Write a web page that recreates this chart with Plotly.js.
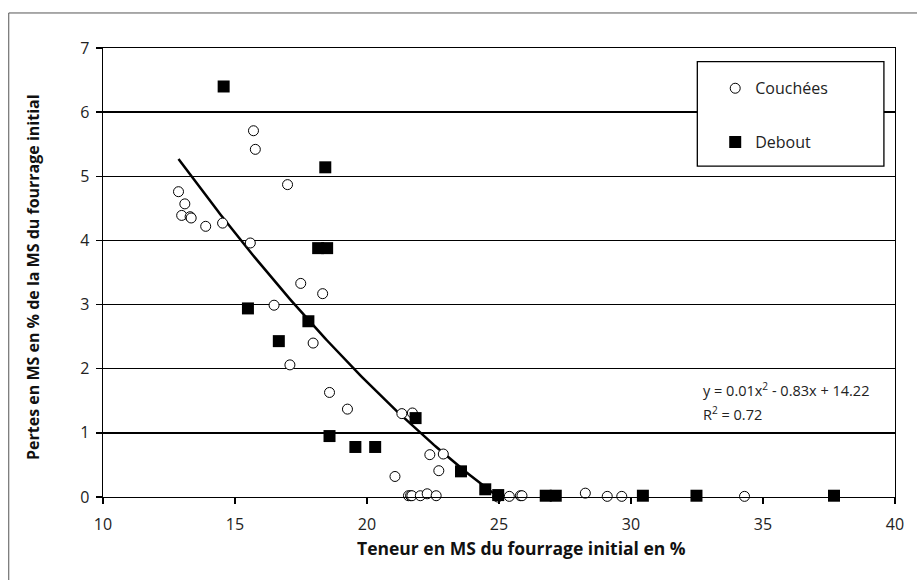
<!DOCTYPE html>
<html>
<head>
<meta charset="utf-8">
<script src="https://cdn.plot.ly/plotly-3.0.1.min.js"></script>
<style>html,body{margin:0;padding:0;background:#fff;}#chart{width:917px;height:580px;}</style>
</head>
<body>
<div id="chart"></div>
<script>
// Couchées (open circles)
const couchX = [12.86, 13.10, 12.98, 13.30, 13.34, 13.89, 14.53, 15.58, 15.70, 15.77, 16.99, 17.49, 18.32, 16.48, 17.96, 17.08, 18.58, 19.26, 21.32, 21.72, 22.38, 22.89, 22.72, 21.06, 21.57, 21.65, 21.70, 22.02, 22.28, 22.62, 24.95, 25.39, 25.81, 25.87, 28.27, 29.10, 29.65, 34.30];
const couchY = [4.76, 4.57, 4.39, 4.37, 4.35, 4.22, 4.27, 3.96, 5.71, 5.42, 4.87, 3.33, 3.17, 2.99, 2.40, 2.06, 1.63, 1.37, 1.30, 1.31, 0.66, 0.67, 0.41, 0.32, 0.02, 0.02, 0.02, 0.02, 0.05, 0.02, 0.00, 0.01, 0.02, 0.02, 0.06, 0.01, 0.01, 0.01];
// Debout (filled squares)
const deboutX = [14.57, 18.42, 18.15, 18.49, 15.49, 17.78, 16.66, 18.58, 19.56, 20.31, 21.84, 23.56, 24.48, 24.97, 26.77, 27.15, 30.45, 32.48, 37.69];
const deboutY = [6.40, 5.14, 3.88, 3.88, 2.94, 2.74, 2.43, 0.95, 0.78, 0.78, 1.23, 0.40, 0.12, 0.03, 0.02, 0.02, 0.02, 0.02, 0.02];
// Polynomial trendline coefficients (order 2): y = a x^2 + b x + c
const trendCoef = [0.01043, -0.83, 14.22];
const seriesNames = ["Couchées", "Debout"];
const xTicks = [10, 15, 20, 25, 30, 35, 40];
const yTicks = [0, 1, 2, 3, 4, 5, 6, 7];
const xTitle = "Teneur en MS du fourrage initial en %";
const yTitle = "Pertes en MS en % de la MS du fourrage initial";
const eqText = "y = 0.01x<sup>2</sup> - 0.83x + 14.22";
const r2Text = "R<sup>2</sup> = 0.72";

const allX = couchX.concat(deboutX);
const xStart = Math.min(...allX);
const xEnd = Math.max(...allX);
const trendX = [], trendY = [];
for (let i = 0; i <= 300; i++) {
  const x = xStart + (xEnd - xStart) * i / 300;
  trendX.push(x);
  trendY.push(trendCoef[0] * x * x + trendCoef[1] * x + trendCoef[2]);
}

const FONT = "Open Sans";

const traces = [
  {x: trendX, y: trendY, type: 'scatter', mode: 'lines', showlegend: false, hoverinfo: 'skip',
   line: {color: '#000', width: 2.5}},
  {x: couchX, y: couchY, type: 'scatter', mode: 'markers', name: seriesNames[0], legendgroup: 'a', cliponaxis: false,
   marker: {symbol: 'circle', size: 10, color: '#fff', line: {color: '#000', width: 1}}},
  {x: deboutX, y: deboutY, type: 'scatter', mode: 'markers', name: seriesNames[1], legendgroup: 'b', cliponaxis: false,
   marker: {symbol: 'square', size: 12, color: '#000', line: {color: '#000', width: 0}}}
];

const layout = {
  width: 917, height: 580,
  margin: {l: 103, r: 22, t: 48, b: 83},
  paper_bgcolor: '#fff', plot_bgcolor: '#fff',
  font: {family: FONT, size: 16, color: '#222'},
  showlegend: true,
  legend: {x: 0.773, y: 0.948, xanchor: 'left', yanchor: 'top', bgcolor: 'rgba(0,0,0,0)', borderwidth: 0,
    tracegroupgap: 30, font: {family: FONT, size: 16, color: '#222'}},
  xaxis: {range: [10, 40], tickvals: xTicks, ticktext: xTicks.map(String), ticks: 'outside', ticklen: 6, tickwidth: 1.3, tickcolor: '#000',
    showline: true, linecolor: '#000', linewidth: 1.3, mirror: true, showgrid: false, zeroline: false,
    ticklabelstandoff: 6, tickfont: {family: FONT, size: 16, color: '#222'}},
  yaxis: {range: [0, 7], tickvals: yTicks, ticktext: yTicks.map(String), ticks: 'outside', ticklen: 6, tickwidth: 1.3, tickcolor: '#000',
    showline: true, linecolor: '#000', linewidth: 1.3, mirror: true, showgrid: true, gridcolor: '#000', gridwidth: 1.3, zeroline: false,
    ticklabelstandoff: 3, tickfont: {family: FONT, size: 16, color: '#222'}},
  shapes: [
    {type: 'rect', xref: 'paper', yref: 'paper', x0: 0.7504, x1: 0.986, y0: 0.737, y1: 0.9695,
     line: {color: '#000', width: 1.3}, fillcolor: '#fff', layer: 'above'},
    {type: 'line', xref: 'paper', yref: 'paper', x0: -0.119, x1: 1.03, y0: 1.078, y1: 1.078, line: {color: '#555', width: 1}},
    {type: 'line', xref: 'paper', yref: 'paper', x0: -0.119, x1: -0.119, y0: 1.078, y1: -0.2, line: {color: '#555', width: 1}}
  ],
  annotations: [
    {text: xTitle, xref: 'paper', yref: 'paper', x: 0.529, y: -0.1136, xanchor: 'center', yanchor: 'middle', showarrow: false,
     font: {family: FONT, size: 17.5, color: '#111', weight: 'bold'}},
    {text: yTitle, xref: 'paper', yref: 'paper', x: -0.0884, y: 0.49, xanchor: 'center', yanchor: 'middle', textangle: -90, showarrow: false,
     font: {family: FONT, size: 16, color: '#111', weight: 'bold'}},
    {text: eqText, xref: 'paper', yref: 'paper', x: 0.7555, y: 0.24, xanchor: 'left', yanchor: 'middle', showarrow: false,
     font: {family: FONT, size: 14.5, color: '#222'}},
    {text: r2Text, xref: 'paper', yref: 'paper', x: 0.7555, y: 0.185, xanchor: 'left', yanchor: 'middle', showarrow: false,
     font: {family: FONT, size: 14.5, color: '#222'}}
  ]
};

Plotly.newPlot('chart', traces, layout, {displayModeBar: false, staticPlot: true});
</script>
</body>
</html>
